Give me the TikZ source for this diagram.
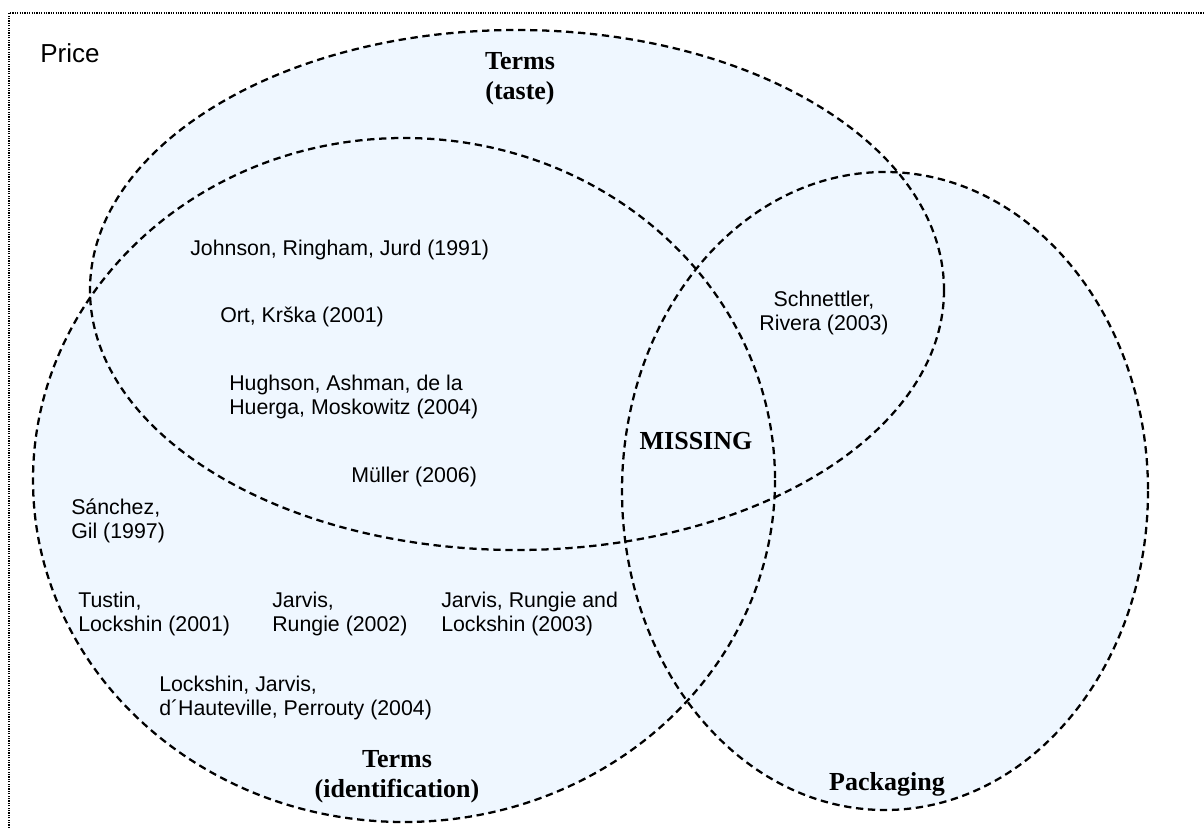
\documentclass[tikz,border=0pt]{standalone}
\usepackage{fontspec}
\setmainfont{Liberation Serif}
\setsansfont{Liberation Sans}
\definecolor{setblue}{RGB}{239,247,255}
\begin{document}
\begin{tikzpicture}[x=0.75pt,y=-0.75pt,
  setfill/.style={fill=setblue},
  setline/.style={draw=black,line width=1.7pt,dash pattern=on 5.5pt off 3.5pt},
  frame/.style={draw=black,line width=0.9pt,dash pattern=on 0.9pt off 0.9pt},
  author/.style={font=\sffamily\fontsize{16}{18}\selectfont,align=left,anchor=base west,inner sep=0pt},
  heading/.style={font=\bfseries\fontsize{19.5}{22.5}\selectfont,align=center,anchor=base,inner sep=0pt}]
\useasboundingbox (0,0) rectangle (1204,828);
\draw[frame] (9,828) |- (1204,13);
\fill[setfill] (517,290) ellipse [x radius=427,y radius=260];
\fill[setfill] (404,480) ellipse [x radius=371,y radius=342];
\fill[setfill] (885,491) ellipse [x radius=263,y radius=319];
\draw[setline] (517,290) ellipse [x radius=427,y radius=260];
\draw[setline] (404,480) ellipse [x radius=371,y radius=342];
\draw[setline] (885,491) ellipse [x radius=263,y radius=319];
\node[author,font=\sffamily\fontsize{19.5}{22.5}\selectfont] (price) at (40,62) {Price};
\node[heading] (taste) at (520,99) {Terms\\(taste)};
\node[heading] (ident) at (397,797) {Terms\\(identification)};
\node[heading] (pack) at (887,790) {Packaging};
\node[heading] (missing) at (696,449) {MISSING};
\node[author] (johnson) at (190,255) {Johnson, Ringham, Jurd (1991)};
\node[author] (ort) at (220,322) {Ort, Krška (2001)};
\node[author] (hughson) at (229,414) {Hughson, Ashman, de la\\Huerga, Moskowitz (2004)};
\node[author] (mueller) at (351,482) {Müller (2006)};
\node[author] (sanchez) at (71,538) {Sánchez,\\Gil (1997)};
\node[author] (tustin) at (78,631) {Tustin,\\Lockshin (2001)};
\node[author] (jarvis) at (272,631) {Jarvis,\\Rungie (2002)};
\node[author] (jarvis2) at (441,631) {Jarvis, Rungie and\\Lockshin (2003)};
\node[author] (lockshin) at (159,715) {Lockshin, Jarvis,\\d´Hauteville, Perrouty (2004)};
\node[author,align=center,anchor=base] (schnettler) at (824,330) {Schnettler,\\Rivera (2003)};
\end{tikzpicture}
\end{document}
